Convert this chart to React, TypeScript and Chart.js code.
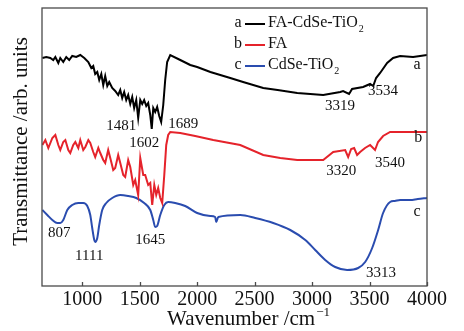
import React, { useEffect, useRef } from "react";
import { Chart, registerables } from "chart.js";
Chart.register(...registerables);

// x-axis tick labels (wavenumber, cm^-1)
const xTicks = [1000, 1500, 2000, 2500, 3000, 3500, 4000];

// a: FA-CdSe-TiO2
const aWn = [653, 687, 722, 748, 766, 792, 809, 835, 861, 887, 913, 948, 983, 1018, 1053, 1079, 1096, 1113, 1131, 1148, 1166, 1183, 1200, 1218, 1235, 1261, 1287, 1313, 1331, 1348, 1365, 1383, 1400, 1418, 1435, 1452, 1470, 1487, 1505, 1522, 1539, 1557, 1574, 1592, 1605, 1618, 1635, 1652, 1670, 1687, 1705, 1722, 1739, 1766, 1853, 1940, 2000, 2115, 2288, 2400, 2575, 2700, 2871, 3097, 3245, 3270, 3322, 3348, 3444, 3505, 3532, 3557, 3592, 3653, 3705, 3766, 3879, 3940, 4000];
const aVal = [228, 229, 228, 226, 229, 223, 228, 224, 229, 226, 230, 229, 231, 228, 224, 218, 220, 212, 214, 206, 212, 201, 210, 200, 204, 198, 195, 191, 196, 188, 194, 186, 191, 182, 189, 178, 186, 168, 186, 182, 186, 180, 183, 171, 157, 178, 174, 179, 170, 164, 181, 206, 224, 231, 226, 221, 219, 214, 208, 204, 198, 196, 193, 191, 194, 195, 192, 197, 199, 202, 200, 208, 213, 223, 228, 230, 229, 230, 231];

// b: FA
const bWn = [653, 679, 705, 740, 766, 792, 809, 835, 853, 879, 896, 922, 940, 966, 983, 1009, 1027, 1053, 1070, 1096, 1113, 1140, 1157, 1183, 1200, 1226, 1244, 1270, 1287, 1313, 1331, 1357, 1374, 1400, 1418, 1444, 1461, 1487, 1505, 1531, 1548, 1574, 1592, 1609, 1627, 1644, 1661, 1679, 1696, 1714, 1731, 1748, 1766, 1853, 1983, 2140, 2375, 2575, 2723, 2871, 3097, 3184, 3288, 3314, 3340, 3366, 3392, 3418, 3461, 3505, 3548, 3574, 3618, 3679, 4000];
const bVal = [141, 146, 138, 148, 151, 141, 136, 144, 146, 136, 133, 141, 144, 138, 146, 136, 139, 146, 143, 134, 129, 138, 133, 126, 123, 136, 128, 116, 118, 131, 123, 111, 109, 126, 119, 101, 106, 91, 128, 111, 111, 101, 103, 81, 101, 91, 98, 88, 83, 111, 141, 151, 154, 153, 150, 146, 141, 131, 128, 126, 126, 134, 136, 129, 137, 138, 131, 134, 138, 141, 136, 144, 150, 154, 154];

// c: CdSe-TiO2
const cWn = [653, 696, 740, 783, 809, 835, 870, 913, 966, 1009, 1044, 1070, 1087, 1105, 1113, 1131, 1148, 1174, 1209, 1261, 1331, 1400, 1470, 1539, 1592, 1618, 1635, 1652, 1679, 1714, 1748, 1809, 1896, 2000, 2114, 2157, 2166, 2184, 2375, 2505, 2662, 2810, 2941, 3027, 3114, 3201, 3305, 3401, 3462, 3523, 3575, 3618, 3679, 3720, 3766, 3853, 3920, 4000];
const cVal = [76, 71, 66, 63, 63, 66, 76, 81, 83, 83, 80, 71, 58, 46, 44, 48, 61, 76, 83, 88, 91, 90, 88, 83, 76, 66, 59, 60, 71, 81, 84, 83, 80, 73, 70, 69, 64, 69, 71, 68, 63, 56, 46, 36, 26, 19, 16, 18, 24, 38, 56, 73, 84, 85, 86, 86, 87, 88];

// peak labels: text, wavenumber, value
const peakText = ["1481", "1602", "1689", "3319", "3534", "a", "3320", "3540", "b", "807", "1111", "1645", "3313", "c"];
const peakWn = [1340, 1540, 1879, 3244, 3618, 3914, 3253, 3679, 3923, 800, 1061, 1592, 3600, 3914];
const peakVal = [160, 143, 162, 180, 195, 221, 115, 123, 148, 53, 30, 46, 13, 74];

const seriesKeys = ["a", "b", "c"];
const seriesNames = ["FA-CdSe-TiO", "FA", "CdSe-TiO"];
const seriesSub = ["2", "", "2"];
const seriesColors = ["#000000", "#e5232b", "#2a4caf"];

const FONT = "'Liberation Serif', 'Times New Roman', serif";

function toPts(w: number[], v: number[]) {
  return w.map((x, i) => ({ x, y: v[i] }));
}

export default function App() {
  const ref = useRef<HTMLCanvasElement>(null);
  useEffect(() => {
    const canvas = ref.current!;
    const overlay = {
      id: "overlay",
      afterDraw(chart: any) {
        const ctx = chart.ctx as CanvasRenderingContext2D;
        const { left, right, top, bottom } = chart.chartArea;
        const xs = chart.scales.x;
        const ys = chart.scales.y;
        ctx.save();
        // frame
        ctx.strokeStyle = "#4a4a4a";
        ctx.lineWidth = 1.3;
        ctx.strokeRect(left, top, right - left, bottom - top);
        // inward ticks
        xTicks.forEach((v) => {
          const px = Math.round(xs.getPixelForValue(v)) + 0.5;
          ctx.beginPath();
          ctx.moveTo(px, bottom);
          ctx.lineTo(px, bottom - 4);
          ctx.stroke();
        });
        ctx.fillStyle = "#111";
        // peak labels
        ctx.textAlign = "center";
        ctx.textBaseline = "middle";
        peakText.forEach((t, i) => {
          ctx.font = (t.length === 1 ? "16px " : "15px ") + FONT;
          ctx.fillText(t, xs.getPixelForValue(peakWn[i]), ys.getPixelForValue(peakVal[i]));
        });
        // legend
        seriesKeys.forEach((k, i) => {
          const y = 23 + i * 21;
          ctx.font = "16px " + FONT;
          ctx.textAlign = "center";
          ctx.textBaseline = "middle";
          ctx.fillStyle = "#111";
          ctx.fillText(k, 238, y);
          ctx.strokeStyle = seriesColors[i];
          ctx.lineWidth = 2;
          ctx.beginPath();
          ctx.moveTo(245, y + 1);
          ctx.lineTo(265, y + 1);
          ctx.stroke();
          ctx.textAlign = "left";
          ctx.fillText(seriesNames[i], 268, y);
          const w = ctx.measureText(seriesNames[i]).width;
          if (seriesSub[i]) {
            ctx.font = "10px " + FONT;
            ctx.fillText(seriesSub[i], 268 + w + 1, y + 6);
          }
        });
        // x title
        ctx.textAlign = "left";
        ctx.textBaseline = "alphabetic";
        ctx.font = "21px " + FONT;
        const main = "Wavenumber /cm";
        ctx.fillText(main, 167, 325);
        const mw = ctx.measureText(main).width;
        ctx.font = "13px " + FONT;
        ctx.fillText("\u22121", 167 + mw + 1, 316);
        // y title
        ctx.translate(27, 141.5);
        ctx.rotate(-Math.PI / 2);
        ctx.textAlign = "center";
        ctx.font = "21px " + FONT;
        ctx.fillText("Transmittance /arb. units", 0, 0);
        ctx.restore();
      },
    };
    const ds = (i: number, w: number[], v: number[], smooth: boolean) => ({
      label: seriesNames[i] + seriesSub[i],
      data: toPts(w, v),
      borderColor: seriesColors[i],
      borderWidth: 2,
      pointRadius: 0,
      tension: 0,
      cubicInterpolationMode: smooth ? "monotone" : "default",
      fill: false,
    });
    const chart = new Chart(canvas, {
      type: "line",
      data: {
        datasets: [ds(0, aWn, aVal, false), ds(1, bWn, bVal, false), ds(2, cWn, cVal, true)],
      },
      options: {
        responsive: false,
        animation: false,
        layout: { padding: { left: 42, right: 37, top: 8, bottom: 0 } },
        plugins: { legend: { display: false }, tooltip: { enabled: false } },
        scales: {
          x: {
            type: "linear",
            min: 650,
            max: 4000,
            afterBuildTicks: (s: any) => {
              s.ticks = xTicks.map((v) => ({ value: v }));
            },
            afterFit: (s: any) => {
              s.height = 45;
            },
            grid: { display: false, drawTicks: false },
            border: { display: false },
            ticks: {
              font: { family: FONT, size: 20 },
              color: "#111",
              padding: 2,
              maxRotation: 0,
              autoSkip: false,
              callback: (v: any) => String(v),
            },
          },
          y: { display: false, min: 0, max: 278 },
        },
      },
      plugins: [overlay],
    } as any);
    return () => chart.destroy();
  }, []);
  return (
    <div style={{ position: "fixed", left: 0, top: 0, width: 464, height: 331, background: "#fff" }}>
      <canvas ref={ref} width={464} height={331} style={{ display: "block" }} />
    </div>
  );
}
